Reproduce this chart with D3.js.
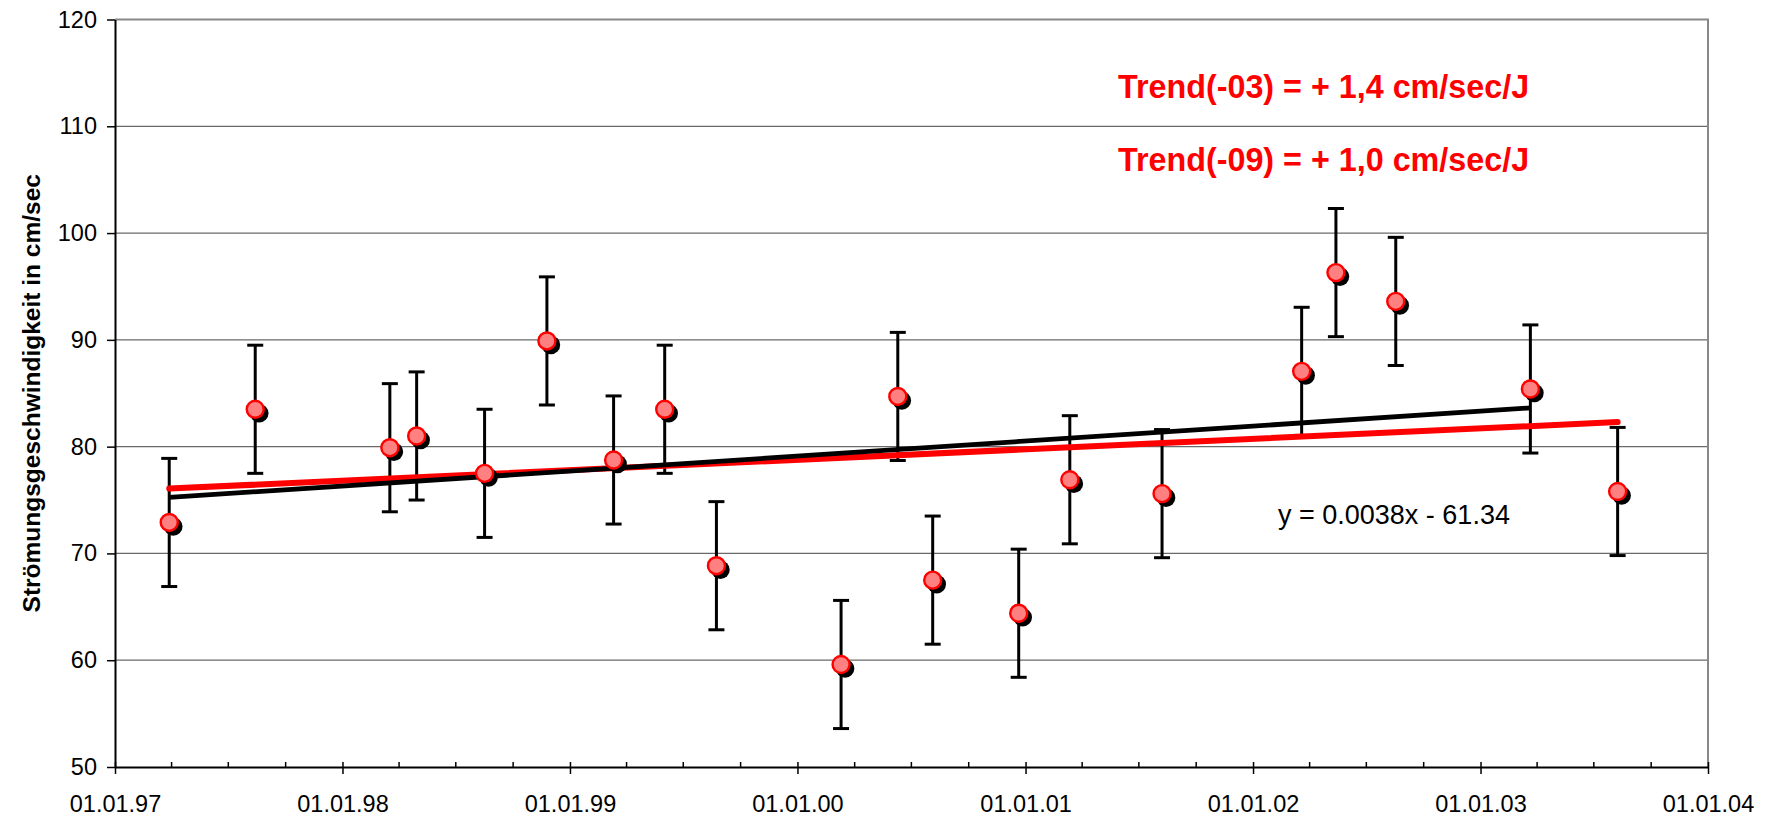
<!DOCTYPE html>
<html>
<head>
<meta charset="utf-8">
<script src="https://cdn.jsdelivr.net/npm/d3@7"></script>
<style>
  body { margin: 0; background: #fff; }
  svg { display: block; font-family: Arial, "Liberation Sans", sans-serif; }
</style>
</head>
<body>
<div id="chart"></div>
<script>
// measurement dates and mean current speed (cm/sec)
const dates = [
  '1997-03-29', '1997-08-14', '1998-03-18', '1998-04-30', '1998-08-17',
  '1998-11-25', '1999-03-12', '1999-06-02', '1999-08-24', '2000-03-11',
  '2000-06-10', '2000-08-05', '2000-12-21', '2001-03-13', '2001-08-08',
  '2002-03-20', '2002-05-14', '2002-08-18', '2003-03-22', '2003-08-09'
];
const speeds = [
  72.9, 83.5, 79.9, 81.0, 77.5,
  89.9, 78.75, 83.5, 68.85, 59.6,
  84.7, 67.5, 64.4, 76.9, 75.6,
  87.05, 96.3, 93.6, 85.4, 75.8
];
const errorMargin = 6;

// Trend(-03): regression over the points up to this date
const trend03End = '2003-06-01';
// Trend(-09): line from the longer series, endpoints only
const trend09Dates = ['1997-03-29', '2003-08-09'];
const trend09Values = [76.07, 82.3];

const yTicks = [50, 60, 70, 80, 90, 100, 110, 120];
const xDomain = ['1997-01-01', '2004-01-01'];

const trendLabels = ['Trend(-03) = + 1,4 cm/sec/J', 'Trend(-09) = + 1,0 cm/sec/J'];
const equationLabel = 'y = 0.0038x - 61.34';
const yTitle = 'Strömungsgeschwindigkeit in cm/sec';

const width = 1771;
const height = 818;
const margin = {top: 19.5, right: 63, bottom: 51, left: 115};

const parse = d3.timeParse('%Y-%m-%d');
const data = dates.map((d, i) => ({date: parse(d), value: speeds[i]}));

const x = d3.scaleTime()
  .domain(xDomain.map(parse))
  .range([margin.left, width - margin.right]);
const y = d3.scaleLinear()
  .domain([50, 120])
  .range([height - margin.bottom, margin.top]);

const svg = d3.select('#chart')
  .append('svg')
  .attr('width', width)
  .attr('height', height);

// gridlines
svg.append('g')
  .selectAll('line')
  .data(yTicks.slice(1, -1))
  .enter()
  .append('line')
  .attr('x1', margin.left)
  .attr('x2', width - margin.right)
  .attr('y1', d => y(d))
  .attr('y2', d => y(d))
  .attr('stroke', '#6a6a6a')
  .attr('stroke-width', 1.2);

// plot border top + right
svg.append('path')
  .attr('d', `M${margin.left},${y(120)}H${width - margin.right}V${y(50)}`)
  .attr('fill', 'none')
  .attr('stroke', '#888')
  .attr('stroke-width', 2);

// x axis: major ticks cross, minor ticks inside
const xMajor = d3.timeYear.range(x.domain()[0], d3.timeDay.offset(x.domain()[1], 1));
const xMinor = d3.timeMonth.every(3).range(x.domain()[0], x.domain()[1])
  .filter(d => d.getMonth() !== 0);

const xAxis = svg.append('g')
  .attr('transform', `translate(0,${y(50)})`)
  .call(d3.axisBottom(x)
    .tickValues(xMajor)
    .tickFormat(d3.timeFormat('%d.%m.%y'))
    .tickSizeInner(7)
    .tickSizeOuter(0)
    .tickPadding(21));
xAxis.selectAll('.tick line').attr('y1', -5).attr('stroke-width', 1.5);
xAxis.select('.domain').attr('stroke-width', 2);
xAxis.selectAll('text').attr('font-size', 23.5).attr('fill', '#000');

svg.append('g')
  .attr('transform', `translate(0,${y(50)})`)
  .call(d3.axisBottom(x).tickValues(xMinor).tickSize(-5).tickFormat(''))
  .call(g => g.select('.domain').remove())
  .selectAll('line').attr('stroke-width', 1.5);

// y axis
const yAxis = svg.append('g')
  .attr('transform', `translate(${margin.left},0)`)
  .call(d3.axisLeft(y)
    .tickValues(yTicks)
    .tickSizeInner(8)
    .tickSizeOuter(0)
    .tickPadding(10));
yAxis.select('.domain').attr('stroke-width', 2);
yAxis.selectAll('.tick line').attr('stroke-width', 1.5);
yAxis.selectAll('text').attr('font-size', 23.5).attr('fill', '#000');

svg.append('text')
  .attr('transform', `translate(31,${(y(50) + y(120)) / 2}) rotate(-90)`)
  .attr('text-anchor', 'middle')
  .attr('dy', '0.35em')
  .attr('font-size', 24.5)
  .attr('font-weight', 'bold')
  .text(yTitle);

// error bars
const eb = svg.append('g')
  .attr('stroke', '#000')
  .attr('stroke-width', 3);
eb.selectAll('.bar')
  .data(data)
  .enter()
  .append('line')
  .attr('x1', d => x(d.date))
  .attr('x2', d => x(d.date))
  .attr('y1', d => y(d.value + errorMargin))
  .attr('y2', d => y(d.value - errorMargin));
eb.selectAll('.cap')
  .data(data.flatMap(d => [
    {date: d.date, value: d.value + errorMargin},
    {date: d.date, value: d.value - errorMargin}
  ]))
  .enter()
  .append('line')
  .attr('x1', d => x(d.date) - 8)
  .attr('x2', d => x(d.date) + 8)
  .attr('y1', d => y(d.value))
  .attr('y2', d => y(d.value));

// trend(-09)
const line = d3.line().x(d => x(d.date)).y(d => y(d.value));
svg.append('path')
  .datum(trend09Dates.map((d, i) => ({date: parse(d), value: trend09Values[i]})))
  .attr('d', line)
  .attr('fill', 'none')
  .attr('stroke', '#ff0000')
  .attr('stroke-width', 6)
  .attr('stroke-linecap', 'round');

// trend(-03) least squares
const fitData = data.filter(d => d.date < parse(trend03End));
const mx = d3.mean(fitData, d => +d.date);
const my = d3.mean(fitData, d => d.value);
const slope = d3.sum(fitData, d => (+d.date - mx) * (d.value - my)) /
  d3.sum(fitData, d => (+d.date - mx) ** 2);
const ends = d3.extent(fitData, d => d.date);
svg.append('path')
  .datum(ends.map(d => ({date: d, value: my + slope * (+d - mx)})))
  .attr('d', line)
  .attr('fill', 'none')
  .attr('stroke', '#000')
  .attr('stroke-width', 4.8);

// markers with shadow
const pts = svg.append('g');
pts.selectAll('.shadow')
  .data(data)
  .enter()
  .append('circle')
  .attr('cx', d => x(d.date) + 4)
  .attr('cy', d => y(d.value) + 4)
  .attr('r', 9.3)
  .attr('fill', '#000');
pts.selectAll('.dot')
  .data(data)
  .enter()
  .append('circle')
  .attr('cx', d => x(d.date))
  .attr('cy', d => y(d.value))
  .attr('r', 8.5)
  .attr('fill', '#ff8080')
  .attr('stroke', '#ff0000')
  .attr('stroke-width', 2.4);

// labels
svg.selectAll('.trend-label')
  .data(trendLabels)
  .enter()
  .append('text')
  .attr('x', 1118)
  .attr('y', (d, i) => 97.5 + i * 73)
  .attr('font-size', 32.3)
  .attr('font-weight', 'bold')
  .attr('fill', '#ff0000')
  .text(d => d);

svg.append('text')
  .attr('x', 1278)
  .attr('y', 524)
  .attr('font-size', 27)
  .attr('fill', '#000')
  .text(equationLabel);
</script>
</body>
</html>
